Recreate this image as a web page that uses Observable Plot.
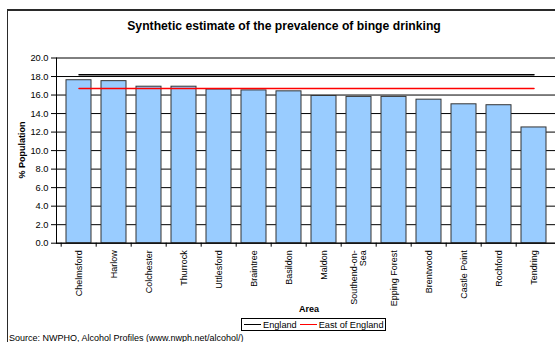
<!DOCTYPE html>
<html>
<head>
<meta charset="utf-8">
<script src="https://cdn.jsdelivr.net/npm/d3@7"></script>
<script src="https://cdn.jsdelivr.net/npm/@observablehq/plot@0.6"></script>
<style>
  html, body { margin: 0; padding: 0; background: #fff; }
  #wrap { position: relative; width: 555px; height: 342px; overflow: hidden; background: #fff;
          font-family: "Liberation Sans", Arial, sans-serif; color: #000; }
  #frame { position: absolute; left: 7px; top: 9px; width: 620px; height: 400px;
           border-top: 2px solid #2a2a2a; border-left: 1.5px solid #2a2a2a; }
  #title { position: absolute; left: 56px; width: 456px; top: 19px; text-align: center;
           font-weight: bold; font-size: 12.2px; white-space: nowrap; }
  #ylabel { position: absolute; left: 22px; top: 150px; transform: translate(-50%, -50%) rotate(-90deg);
            font-weight: bold; font-size: 9px; white-space: nowrap; }
  #xlabel { position: absolute; left: 309px; top: 309px; transform: translate(-50%, -50%);
            font-weight: bold; font-size: 9px; }
  #legend { position: absolute; left: 241px; top: 318px; width: 145px; height: 13px;
            border: 1px solid #000; font-size: 9.2px; display: flex; align-items: center; box-sizing: border-box; }
  #legend .sw { display: inline-block; width: 17px; height: 0; margin: 0 2px 0 2px; }
  #source { position: absolute; left: 9px; top: 333px; font-size: 9px; white-space: nowrap; }
  #chart { position: absolute; left: 0; top: 40px; }
</style>
</head>
<body>
<div id="wrap">
  <div id="frame"></div>
  <div id="chart"></div>
  <div id="title">Synthetic estimate of the prevalence of binge drinking</div>
  <div id="ylabel">% Population</div>
  <div id="xlabel">Area</div>
  <div id="legend"><span class="sw" style="border-top:1.5px solid #000"></span>England<span class="sw" style="border-top:1.5px solid #ff0000; margin-left:3px"></span>East of England</div>
  <div id="source">Source: NWPHO, Alcohol Profiles (www.nwph.net/alcohol/)</div>
</div>
<script>
const areas = ["Chelmsford", "Harlow", "Colchester", "Thurrock", "Uttlesford", "Braintree", "Basildon",
  "Maldon", "Southend-on-Sea", "Epping Forest", "Brentwood", "Castle Point", "Rochford", "Tendring"];
const prevalence = [17.6, 17.5, 16.9, 16.9, 16.6, 16.5, 16.4, 15.9, 15.8, 15.8, 15.5, 15.0, 14.9, 12.5];
const englandRate = 18.2;
const eastOfEnglandRate = 16.7;
const yTicks = [0, 2, 4, 6, 8, 10, 12, 14, 16, 18, 20];
const tickLabels = {"Southend-on-Sea": "Southend-on-\nSea"};

const bars = areas.map((a, i) => ({area: a, value: prevalence[i]}));
const england = areas.map(a => ({area: a, value: englandRate}));
const east = areas.map(a => ({area: a, value: eastOfEnglandRate}));

const W = 555, H = 270, mL = 56, mR = 0;
const step = (W - mL - mR) / areas.length;

const chart = Plot.plot({
  width: W, height: H,
  marginLeft: mL, marginRight: mR, marginTop: 17.5, marginBottom: 67.3,
  style: {background: "transparent", fontFamily: "'Liberation Sans', Arial, sans-serif", fontSize: "9px", color: "#000"},
  x: {domain: areas, paddingInner: 0.29, paddingOuter: 0.145, label: null},
  y: {domain: [0, 20], label: null},
  marks: [
    Plot.gridY(yTicks, {stroke: "#000", strokeOpacity: 1, strokeWidth: 1}),
    Plot.barY(bars, {x: "area", y: "value", fill: "#99ccff", stroke: "#333", strokeWidth: 1}),
    Plot.lineY(england, {x: "area", y: "value", stroke: "#000", strokeWidth: 1.5}),
    Plot.lineY(east, {x: "area", y: "value", stroke: "#ff0000", strokeWidth: 1.5}),
    Plot.axisY(yTicks, {tickSize: 5, tickPadding: 3, tickFormat: d3.format(".1f"), fontSize: 9.3, stroke: "#000"}),
    Plot.axisX({tickSize: 4, tickFormat: () => "", dx: -step / 2, stroke: "#000"}),
    Plot.axisX({tickSize: 0, tickPadding: 7, tickRotate: -90, fontSize: 9,
                tickFormat: d => tickLabels[d] ?? d}),
    Plot.ruleY([0], {stroke: "#000", strokeWidth: 1}),
    Plot.frame({anchor: "left", stroke: "#000", strokeWidth: 1})
  ]
});
document.getElementById("chart").appendChild(chart);
</script>
</body>
</html>
